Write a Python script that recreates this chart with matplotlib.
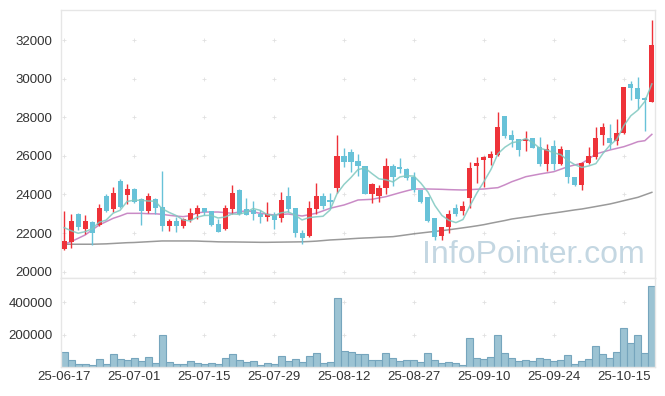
"""
캔들차트 + 이동평균선 + 거래량 (InfoPointer 스타일 재현)
"""

import numpy as np
import matplotlib.pyplot as plt

plt.rcParams['font.family'] = ['Liberation Sans', 'DejaVu Sans']

# 거래일 (25-06-17 ~ 25-10-21)
dates = [
    '25-06-17', '25-06-18', '25-06-19', '25-06-20', '25-06-23', '25-06-24', '25-06-25', '25-06-26', '25-06-27', '25-06-30',
    '25-07-01', '25-07-02', '25-07-03', '25-07-04', '25-07-07', '25-07-08', '25-07-09', '25-07-10', '25-07-11', '25-07-14',
    '25-07-15', '25-07-16', '25-07-17', '25-07-18', '25-07-21', '25-07-22', '25-07-23', '25-07-24', '25-07-25', '25-07-28',
    '25-07-29', '25-07-30', '25-07-31', '25-08-01', '25-08-04', '25-08-05', '25-08-06', '25-08-07', '25-08-08', '25-08-11',
    '25-08-12', '25-08-13', '25-08-14', '25-08-18', '25-08-19', '25-08-20', '25-08-21', '25-08-22', '25-08-25', '25-08-26',
    '25-08-27', '25-08-28', '25-08-29', '25-09-01', '25-09-02', '25-09-03', '25-09-04', '25-09-05', '25-09-08', '25-09-09',
    '25-09-10', '25-09-11', '25-09-12', '25-09-15', '25-09-16', '25-09-17', '25-09-18', '25-09-19', '25-09-22', '25-09-23',
    '25-09-24', '25-09-25', '25-09-26', '25-09-29', '25-09-30', '25-10-01', '25-10-02', '25-10-10', '25-10-13', '25-10-14',
    '25-10-15', '25-10-16', '25-10-17', '25-10-20', '25-10-21',
]

opens = [
    21150, 21550, 23000, 22200, 22550, 22400, 23900, 23250, 24700, 23950,
    24300, 23750, 23150, 23750, 23350, 22350, 22650, 22350, 22700, 23000,
    23300, 23150, 22450, 22200, 23250, 24250, 23250, 23200, 23000, 22850,
    22950, 22800, 23900, 23300, 22000, 21850, 23250, 23900, 23700, 24350,
    26000, 26200, 25750, 25450, 24000, 23900, 24350, 25450, 25400, 25300,
    24900, 24250, 23850, 22800, 21850, 22300, 23300, 23150, 23800, 25500,
    25800, 25900, 26050, 28050, 27100, 26850, 26750, 26950, 26450, 25600,
    26500, 25600, 26300, 24900, 24500, 25650, 25950, 27100, 26950, 26750,
    27200, 29750, 29500, 29000, 28800,
]
highs = [
    23150, 23000, 23050, 22950, 22600, 23500, 24000, 24400, 24800, 24550,
    24350, 23800, 24100, 23800, 25200, 22750, 22850, 22800, 23300, 23450,
    23300, 23150, 22750, 23450, 24500, 24300, 23800, 23650, 23200, 23600,
    23100, 24150, 24400, 23300, 22150, 23650, 24600, 24050, 24100, 27100,
    26400, 26350, 26100, 25450, 24600, 24500, 25900, 25600, 25900, 25350,
    25150, 24250, 23850, 22800, 22300, 23200, 23500, 23650, 25700, 25950,
    26000, 26250, 28250, 28050, 27350, 26900, 27300, 26950, 27000, 26600,
    26800, 26500, 26300, 24900, 25700, 26450, 27500, 27700, 27650, 27900,
    29550, 29900, 30100, 29050, 33050,
]
lows = [
    21100, 21250, 22150, 21950, 21400, 22350, 23100, 23100, 23300, 23500,
    23550, 22400, 23050, 23000, 22100, 22100, 22050, 22250, 22550, 22750,
    22950, 22350, 22050, 22150, 23000, 22950, 22950, 22700, 22500, 22600,
    22200, 22550, 23100, 21800, 21450, 21800, 23000, 23250, 23250, 24050,
    25400, 25150, 24950, 24000, 23550, 23600, 24000, 24450, 25100, 24750,
    24150, 23550, 22550, 21650, 21650, 22000, 22900, 22950, 23300, 24600,
    24400, 25550, 26000, 26950, 26450, 26000, 26250, 26400, 25450, 25200,
    25250, 25550, 24600, 24450, 24250, 25600, 25850, 26550, 26350, 26550,
    27150, 28900, 28450, 27300, 28800,
]
closes = [
    21600, 22600, 22300, 22600, 22000, 23300, 23150, 24100, 23350, 24300,
    23600, 23150, 23900, 23300, 22350, 22650, 22350, 22750, 23050, 23300,
    23100, 22400, 22050, 23300, 24100, 23000, 22950, 23000, 22850, 23000,
    22700, 23700, 23250, 22000, 21750, 23300, 23900, 23400, 23600, 26000,
    25700, 25700, 25450, 24000, 24550, 24350, 25450, 24900, 25300, 24850,
    24250, 23600, 22600, 21800, 22300, 23000, 23000, 23400, 25350, 25650,
    25950, 26100, 27500, 27050, 26800, 26300, 26850, 26400, 25600, 26350,
    25600, 26350, 24900, 24500, 25650, 26000, 26950, 27500, 26650, 27200,
    29550, 29500, 28950, 28900, 31750,
]
volumes = [
    90000, 43000, 16000, 16000, 10000, 47000, 16000, 78000, 47000, 41000,
    53000, 35000, 60000, 22000, 195000, 29000, 16000, 16000, 35000, 22000,
    16000, 22000, 16000, 53000, 78000, 41000, 29000, 35000, 10000, 22000,
    16000, 66000, 35000, 47000, 29000, 66000, 84000, 22000, 29000, 424000,
    99000, 90000, 78000, 78000, 41000, 41000, 84000, 53000, 35000, 41000,
    41000, 29000, 84000, 41000, 22000, 29000, 22000, 10000, 177000, 53000,
    47000, 60000, 195000, 84000, 53000, 35000, 41000, 35000, 53000, 47000,
    35000, 41000, 72000, 16000, 35000, 47000, 128000, 78000, 53000, 90000,
    239000, 146000, 195000, 84000, 498000,
]

# 이동평균선
ma5 = [
    22280, 22120, 21990, 22070, 22220, 22560, 22670, 23030, 23180, 23640,
    23700, 23700, 23660, 23650, 23260, 23070, 22910, 22680, 22630, 22820,
    22910, 22920, 22780, 22830, 22990, 22970, 23080, 23270, 23180, 22960,
    22900, 23050, 23100, 22930, 22680, 22800, 22840, 22870, 23190, 24040,
    24520, 24880, 25290, 25370, 25080, 24810, 24760, 24650, 24910, 24970,
    24950, 24580, 24120, 23420, 22910, 22660, 22540, 22700, 23410, 24080,
    24670, 25290, 26110, 26450, 26680, 26750, 26900, 26680, 26390, 26300,
    26160, 26060, 25760, 25540, 25400, 25480, 25600, 26120, 26550, 26860,
    27570, 28080, 28370, 28820, 29730,
]
ma20 = [
    21420, 21554, 21727, 21900, 22160, 22417, 22590, 22763, 22884, 23022,
    23022, 23022, 23000, 23000, 22970, 22920, 22880, 22850, 22900, 23040,
    23090, 23090, 23090, 23060, 23022, 23090, 23160, 23100, 23022, 22980,
    22936, 22960, 22988, 22940, 22884, 22950, 23022, 23150, 23281, 23370,
    23454, 23580, 23713, 23730, 23748, 23820, 23886, 23990, 24093, 24190,
    24283, 24283, 24283, 24275, 24266, 24250, 24240, 24231, 24250, 24270,
    24283, 24320, 24352, 24500, 24663, 24790, 24922, 24990, 25060, 25120,
    25181, 25310, 25440, 25530, 25613, 25850, 26096, 26200, 26304, 26390,
    26476, 26600, 26735, 26787, 27115,
]
ma60 = [
    21420, 21420, 21420, 21420, 21420, 21430, 21440, 21460, 21480, 21500,
    21510, 21530, 21550, 21570, 21590, 21590, 21590, 21590, 21590, 21585,
    21570, 21560, 21545, 21540, 21540, 21535, 21530, 21525, 21520, 21520,
    21525, 21530, 21535, 21540, 21545, 21560, 21580, 21610, 21641, 21660,
    21680, 21705, 21727, 21745, 21760, 21780, 21797, 21813, 21860, 21910,
    21960, 22003, 22045, 22085, 22124, 22170, 22220, 22270, 22320, 22375,
    22435, 22510, 22580, 22650, 22729, 22780, 22830, 22880, 22940, 22990,
    23040, 23090, 23145, 23200, 23247, 23310, 23375, 23440, 23506, 23590,
    23679, 23765, 23851, 23980, 24110,
]

price_ticks = [20000, 22000, 24000, 26000, 28000, 30000, 32000]
volume_ticks = [200000, 400000]
date_tick_idx = [0, 10, 20, 30, 40, 50, 60, 70, 80]

UP = '#ee3239'
DOWN = '#68c2d8'
FRAME = '#e6e6e6'


def add_plus_grid(ax, xs, ys):
    """격자 교차점에 작은 + 표시"""
    gx, gy = np.meshgrid(xs, ys)
    ax.scatter(gx.ravel(), gy.ravel(), marker='+', s=10, c='#e0e0e0',
               linewidths=0.6, zorder=0, clip_on=False)


def style_frame(ax):
    for sp in ax.spines.values():
        sp.set_color(FRAME)
        sp.set_linewidth(1.0)
    ax.tick_params(length=0, labelsize=9.5, colors='#333333', pad=6)


x = np.arange(len(dates))
o = np.array(opens)
c = np.array(closes)
up = c >= o
colors = np.where(up, UP, DOWN)

fig = plt.figure(figsize=(6.65, 3.96), dpi=100)
ax = fig.add_axes([61 / 665, 118 / 396, 594 / 665, 268 / 396])
axv = fig.add_axes([61 / 665, 29 / 396, 594 / 665, 89 / 396], sharex=ax)

# 가격 패널
add_plus_grid(ax, date_tick_idx, price_ticks)
ax.text(0.795, 0.085, 'InfoPointer.com', transform=ax.transAxes,
        ha='center', va='center', fontsize=23, color='#c4d7e2', zorder=1)
ax.plot(x, ma60, color='#8f8f8f', lw=1.1, alpha=0.9, zorder=2)
ax.plot(x, ma20, color='#c47fc0', lw=1.1, alpha=0.9, zorder=2)
ax.vlines(x, lows, highs, colors=colors, lw=1.0, zorder=3)
body = np.maximum(np.abs(c - o), 40)
ax.bar(x, body, bottom=np.minimum(o, c), width=0.72, color=colors,
       linewidth=0, zorder=4)
ax.plot(x, ma5, color='#7fc8c0', lw=1.1, alpha=0.85, zorder=5)
ax.set_ylim(19670, 33560)
ax.set_yticks(price_ticks)
ax.set_yticklabels([str(v) for v in price_ticks])
style_frame(ax)
ax.tick_params(axis='x', labelbottom=False)

# 거래량 패널
add_plus_grid(axv, date_tick_idx, volume_ticks)
axv.bar(x, volumes, width=1.0, color='#9cc3d3', edgecolor='#76a5bd',
        linewidth=0.8, zorder=2)
axv.set_ylim(0, 549000)
axv.set_yticks(volume_ticks)
axv.set_yticklabels([str(v) for v in volume_ticks])
axv.set_xticks(date_tick_idx)
axv.set_xticklabels([dates[i] for i in date_tick_idx])
axv.set_xlim(-0.45, 84.45)
style_frame(axv)
axv.tick_params(axis='x', pad=3)

plt.savefig('out.png', dpi=100)
